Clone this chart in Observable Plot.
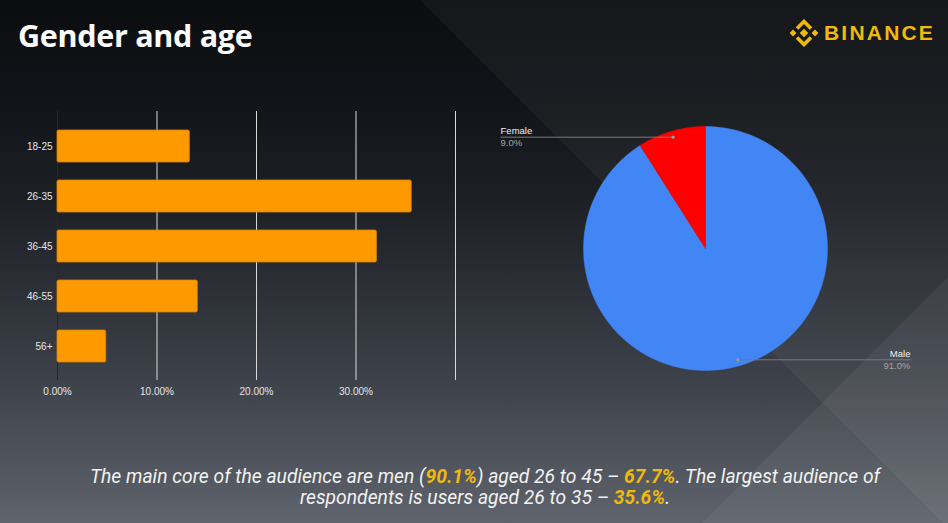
<!DOCTYPE html>
<html>
<head>
<meta charset="utf-8">
<script src="https://cdn.jsdelivr.net/npm/d3@7"></script>
<script src="https://cdn.jsdelivr.net/npm/@observablehq/plot@0.6"></script>
<style>
  html, body { margin: 0; padding: 0; background: #0c0e11; }
  #page {
    position: relative; width: 948px; height: 523px; overflow: hidden;
    background: linear-gradient(180deg, #0b0d10 0%, #101317 18%, #1c1f24 38%, #3a3e46 70%, #5e636c 100%);
    font-family: Roboto, "Liberation Sans", sans-serif;
  }
  #bg { position: absolute; left: 0; top: 0; }
  #title {
    position: absolute; left: 18px; top: 14px; color: #fff;
    font-family: "Open Sans", Roboto, sans-serif; font-weight: 700; font-size: 30.5px; letter-spacing: -0.3px;
  }
  #logo { position: absolute; left: 789px; top: 19px; display: flex; align-items: center; }
  #logo span {
    color: #f0b90b; font-family: "Liberation Sans", Arial, sans-serif; font-weight: 700;
    font-size: 21px; letter-spacing: 2.2px; margin-left: 5px; line-height: 26px;
  }
  #bar { position: absolute; left: 0; top: 0; }
  #pie { position: absolute; left: 474px; top: 0; }
  #caption {
    position: absolute; left: 11px; width: 948px; top: 466px; text-align: center;
    color: #f2f2f2; font-style: italic; font-size: 19.3px; line-height: 21px;
    font-family: Roboto, sans-serif;
  }
  #caption b { color: #f0b90b; font-weight: 700; }
</style>
</head>
<body>
<div id="page">
  <svg id="bg" width="948" height="523">
    <polygon points="420,0 948,0 948,528" fill="rgba(255,255,255,0.045)"></polygon>
    <polygon points="948,277 948,523 702,523" fill="rgba(255,255,255,0.05)"></polygon>
  </svg>
  <div id="title">Gender and age</div>
  <div id="logo">
    <svg width="30" height="28" viewBox="-15 -14 30 28">
      <g fill="#f0b90b">
        <rect x="-3" y="-3" width="6" height="6" transform="rotate(45)"></rect>
        <rect x="-2.4" y="-2.4" width="4.8" height="4.8" transform="translate(-11,0) rotate(45)"></rect>
        <rect x="-2.4" y="-2.4" width="4.8" height="4.8" transform="translate(11,0) rotate(45)"></rect>
      </g>
      <g fill="none" stroke="#f0b90b" stroke-width="3.6" stroke-linejoin="miter">
        <polyline points="-7,-4.5 0,-11.5 7,-4.5"></polyline>
        <polyline points="-7,4.5 0,11.5 7,4.5"></polyline>
      </g>
    </svg>
    <span>BINANCE</span>
  </div>
  <div id="bar"></div>
  <div id="pie"></div>
  <div id="caption">The main core of the audience are men (<b>90.1%</b>) aged 26 to 45 – <b>67.7%</b>. The largest audience of<br>respondents is users aged 26 to 35 – <b>35.6%</b>.</div>
</div>
<script>
// ---- Data ----
const ageGroups = ["18-25", "26-35", "36-45", "46-55", "56+"];
const ageShares = [0.133, 0.356, 0.321, 0.141, 0.049];
const xTickValues = [0, 0.1, 0.2, 0.3];
const gridValues = [0.1, 0.2, 0.3, 0.4];

const genders = ["Male", "Female"];
const genderShares = [91.0, 9.0];
const genderLabels = ["91.0%", "9.0%"];
const genderColors = ["#4285f4", "#ff0000"];

// ---- Bar chart ----
const ageData = ageGroups.map((g, i) => ({age: g, share: ageShares[i]}));
const bar = Plot.plot({
  width: 474, height: 410,
  marginLeft: 57, marginRight: 19, marginTop: 111, marginBottom: 30,
  style: {background: "transparent", color: "#e6e6e6", fontFamily: "'Liberation Sans', Arial, sans-serif", fontSize: "10px"},
  x: {domain: [0, 0.4], label: null},
  y: {domain: ageGroups, paddingInner: 0.37, paddingOuter: 0.35, label: null},
  marks: [
    Plot.ruleX(gridValues, {stroke: "#d8d8d8", strokeWidth: 1}),
    Plot.ruleX([0], {stroke: "#25282d", strokeWidth: 1}),
    Plot.barX(ageData, {x: "share", y: "age", fill: "#ff9900", stroke: "#d88300", strokeWidth: 0.8, rx: 1.5}),
    Plot.axisX({ticks: xTickValues, tickFormat: d3.format(".2%"), tickSize: 0, tickPadding: 7, label: null, fill: "#e6e6e6"}),
    Plot.axisY({tickSize: 0, tickPadding: 5, label: null, fill: "#e6e6e6"})
  ]
});
document.getElementById("bar").appendChild(bar);

// ---- Pie chart ----
const arcs = d3.pie().sort(null).value(d => d)(genderShares);
const slices = arcs.map((a, i) => {
  const pts = [{x: 0, y: 0}];
  const n = Math.max(8, Math.ceil((a.endAngle - a.startAngle) / (Math.PI / 360)));
  for (let k = 0; k <= n; k++) {
    const t = a.startAngle + (a.endAngle - a.startAngle) * k / n;
    pts.push({x: Math.sin(t), y: Math.cos(t)});
  }
  pts.push({x: 0, y: 0});
  return {name: genders[i], color: genderColors[i], pts};
});
const labelOffset = 1.68;
const leaders = arcs.map((a, i) => {
  const m = (a.startAngle + a.endAngle) / 2;
  const x = 0.95 * Math.sin(m), y = 0.95 * Math.cos(m);
  const side = x < 0 ? -1 : 1;
  return {name: genders[i], value: genderLabels[i], x, y, x2: side * labelOffset, side};
});
const leftLabels = leaders.filter(d => d.side < 0);
const rightLabels = leaders.filter(d => d.side > 0);
const pie = Plot.plot({
  width: 474, height: 410, margin: 0,
  style: {background: "transparent", fontFamily: "'Liberation Sans', Arial, sans-serif", fontSize: "9.5px"},
  x: {domain: [-1, 1], range: [109, 353], axis: null},
  y: {domain: [-1, 1], range: [370, 126], axis: null},
  marks: [
    ...slices.map(s => Plot.line(s.pts, {x: "x", y: "y", fill: s.color, stroke: s.color, strokeWidth: 0.5, curve: "linear"})),
    Plot.link(leaders, {x1: "x", y1: "y", x2: "x2", y2: "y", stroke: "#7a7a7a", strokeWidth: 1}),
    Plot.dot(leaders, {x: "x", y: "y", r: 1.6, fill: "#9a9a9a"}),
    Plot.text(leftLabels, {x: "x2", y: "y", text: "name", textAnchor: "start", dy: -6, fill: "#f2f2f2"}),
    Plot.text(leftLabels, {x: "x2", y: "y", text: "value", textAnchor: "start", dy: 6, fill: "#a6a6a6"}),
    Plot.text(rightLabels, {x: "x2", y: "y", text: "name", textAnchor: "end", dy: -6, fill: "#f2f2f2"}),
    Plot.text(rightLabels, {x: "x2", y: "y", text: "value", textAnchor: "end", dy: 6, fill: "#a6a6a6"})
  ]
});
document.getElementById("pie").appendChild(pie);
</script>
</body>
</html>
